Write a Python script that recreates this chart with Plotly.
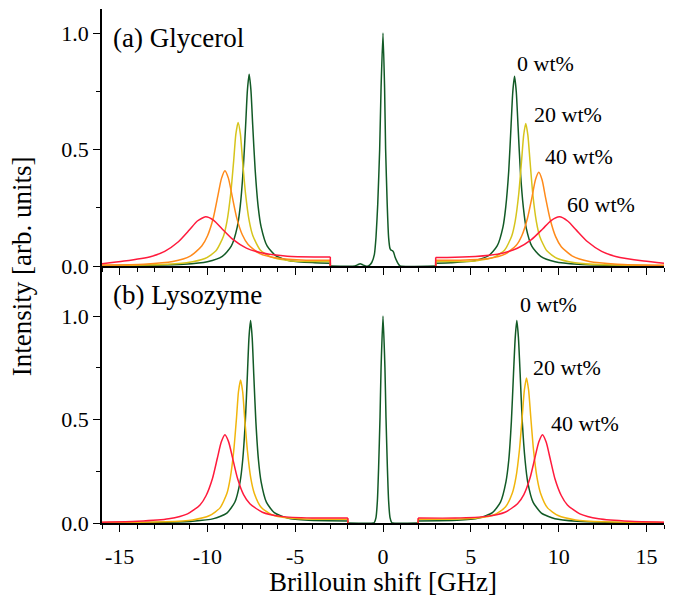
import plotly.graph_objects as go

# ---------------- data ----------------
# (a) Glycerol, anti-Stokes side (negative shift)
TOP_G0_L_X = [-16, -13.5, -11.36, -10.0, -9.15, -8.64, -8.30, -8.13, -7.96, -7.82, -7.72, -7.62, -7.52, -7.42, -7.28, -7.11, -6.94, -6.60, -6.09, -5.24, -3.88, -3.0]
TOP_G0_L_Y = [0.001, 0.003, 0.007, 0.018, 0.041, 0.085, 0.167, 0.256, 0.413, 0.606, 0.755, 0.823, 0.755, 0.606, 0.414, 0.256, 0.168, 0.086, 0.043, 0.021, 0.014, 0.012]
TOP_G20_L_X = [-16, -14.5, -12.87, -11.19, -10.14, -9.51, -9.09, -8.88, -8.67, -8.50, -8.38, -8.25, -8.12, -8.00, -7.83, -7.62, -7.41, -6.99, -6.36, -5.31, -3.63, -3.0]
TOP_G20_L_Y = [0.002, 0.003, 0.005, 0.014, 0.032, 0.065, 0.127, 0.193, 0.311, 0.454, 0.565, 0.616, 0.566, 0.455, 0.312, 0.195, 0.130, 0.069, 0.038, 0.023, 0.019, 0.019]
TOP_G40_L_X = [-16, -13.62, -11.97, -10.98, -10.32, -9.99, -9.66, -9.40, -9.20, -9.0, -8.80, -8.60, -8.34, -8.01, -7.68, -7.02, -6.03, -4.38, -3.0]
TOP_G40_L_Y = [0.004, 0.008, 0.019, 0.042, 0.086, 0.130, 0.207, 0.302, 0.375, 0.409, 0.376, 0.304, 0.210, 0.134, 0.092, 0.053, 0.034, 0.025, 0.025]
TOP_G60_L_X = [-16, -14.75, -13.2, -12.43, -11.65, -11.03, -10.57, -10.1, -9.64, -9.17, -8.55, -7.78, -7.0, -6.23, -5.45, -3.9, -3.0]
TOP_G60_L_Y = [0.010, 0.021, 0.041, 0.063, 0.104, 0.154, 0.193, 0.211, 0.196, 0.160, 0.114, 0.077, 0.058, 0.048, 0.042, 0.039, 0.039]
# (a) central (elastic) line
TOP_C_X = [-3.0, -1.6, -1.45, -1.3, -1.15, -1.0, -0.83, -0.64, -0.49, -0.40, -0.30, -0.19, -0.11, 0.0, 0.09, 0.15, 0.24, 0.32, 0.40, 0.46, 0.53, 0.60, 0.68, 0.78, 0.88, 0.97, 3.0]
TOP_C_Y = [0.0, 0.0, 0.005, 0.010, 0.005, 0.0, 0.0, 0.015, 0.05, 0.122, 0.265, 0.5, 0.765, 1.0, 0.765, 0.5, 0.265, 0.122, 0.075, 0.068, 0.066, 0.06, 0.04, 0.022, 0.008, 0.0, 0.0]
# (a) Stokes side (positive shift)
TOP_G0_R_X = [3.0, 3.86, 5.18, 6.01, 6.50, 6.83, 6.99, 7.16, 7.29, 7.39, 7.49, 7.59, 7.69, 7.82, 7.99, 8.15, 8.48, 8.98, 9.80, 11.12, 13.5, 16]
TOP_G0_R_Y = [0.012, 0.014, 0.022, 0.044, 0.086, 0.167, 0.254, 0.409, 0.600, 0.747, 0.814, 0.747, 0.599, 0.409, 0.253, 0.165, 0.084, 0.041, 0.018, 0.007, 0.002, 0.001]
TOP_G20_R_X = [3.0, 3.73, 5.33, 6.33, 6.93, 7.33, 7.53, 7.73, 7.89, 8.01, 8.13, 8.25, 8.37, 8.53, 8.73, 8.93, 9.33, 9.93, 10.93, 12.53, 16]
TOP_G20_R_Y = [0.019, 0.019, 0.023, 0.038, 0.069, 0.129, 0.194, 0.310, 0.452, 0.562, 0.612, 0.561, 0.451, 0.308, 0.192, 0.126, 0.065, 0.032, 0.014, 0.005, 0.002]
TOP_G40_R_X = [3.0, 4.39, 5.99, 6.95, 7.59, 7.91, 8.23, 8.49, 8.68, 8.87, 9.06, 9.25, 9.51, 9.83, 10.15, 10.79, 11.75, 13.35, 16]
TOP_G40_R_Y = [0.025, 0.025, 0.032, 0.051, 0.089, 0.131, 0.206, 0.298, 0.370, 0.402, 0.369, 0.296, 0.203, 0.126, 0.083, 0.042, 0.019, 0.008, 0.003]
TOP_G60_R_X = [3.0, 3.65, 5.25, 6.05, 6.85, 7.65, 8.45, 9.09, 9.57, 10.05, 10.53, 11.01, 11.65, 12.45, 13.25, 14.85, 16]
TOP_G60_R_Y = [0.037, 0.037, 0.041, 0.046, 0.056, 0.076, 0.113, 0.159, 0.195, 0.211, 0.192, 0.154, 0.104, 0.063, 0.041, 0.021, 0.012]

# (b) Lysozyme, negative shift
BOT_L0_L_X = [-16, -13, -10.84, -9.64, -8.89, -8.44, -8.14, -7.99, -7.84, -7.72, -7.63, -7.54, -7.45, -7.36, -7.24, -7.09, -6.94, -6.64, -6.19, -5.44, -4.24, -2.0]
BOT_L0_L_Y = [0.001, 0.003, 0.009, 0.021, 0.048, 0.100, 0.198, 0.303, 0.490, 0.720, 0.897, 0.978, 0.897, 0.720, 0.491, 0.303, 0.199, 0.101, 0.050, 0.024, 0.013, 0.010]
BOT_L20_L_X = [-16, -12.4, -10.84, -9.87, -9.28, -8.89, -8.70, -8.50, -8.34, -8.23, -8.11, -7.99, -7.88, -7.72, -7.53, -7.33, -6.94, -6.36, -5.38, -3.82, -2.0]
BOT_L20_L_Y = [0.002, 0.006, 0.015, 0.036, 0.073, 0.142, 0.216, 0.348, 0.509, 0.634, 0.691, 0.634, 0.510, 0.349, 0.218, 0.144, 0.076, 0.041, 0.024, 0.018, 0.018]
BOT_L40_L_X = [-16, -13.97, -12.2, -11.13, -10.42, -10.07, -9.71, -9.43, -9.21, -9.0, -8.79, -8.57, -8.29, -7.94, -7.58, -6.87, -5.81, -4.03, -2.0]
BOT_L40_L_Y = [0.004, 0.008, 0.020, 0.044, 0.087, 0.133, 0.215, 0.314, 0.391, 0.426, 0.392, 0.316, 0.217, 0.137, 0.093, 0.052, 0.032, 0.024, 0.024]
# (b) central line
BOT_C_X = [-2.0, -0.55, -0.49, -0.40, -0.32, -0.25, -0.17, -0.11, 0.0, 0.11, 0.17, 0.25, 0.32, 0.40, 0.49, 0.55, 2.0]
BOT_C_Y = [0.0, 0.0, 0.003, 0.026, 0.106, 0.267, 0.509, 0.75, 1.0, 0.75, 0.509, 0.267, 0.106, 0.026, 0.003, 0.0, 0.0]
# (b) positive shift
BOT_L0_R_X = [2.0, 4.21, 5.45, 6.23, 6.69, 7.0, 7.16, 7.31, 7.43, 7.53, 7.62, 7.71, 7.81, 7.93, 8.09, 8.24, 8.55, 9.02, 9.79, 11.03, 13, 16]
BOT_L0_R_Y = [0.010, 0.013, 0.024, 0.050, 0.101, 0.199, 0.303, 0.491, 0.720, 0.897, 0.978, 0.897, 0.720, 0.490, 0.303, 0.198, 0.100, 0.048, 0.021, 0.009, 0.003, 0.001]
BOT_L20_R_X = [2.0, 3.77, 5.37, 6.37, 6.97, 7.37, 7.57, 7.77, 7.93, 8.05, 8.17, 8.29, 8.41, 8.57, 8.77, 8.97, 9.37, 9.97, 10.97, 12.57, 16]
BOT_L20_R_Y = [0.018, 0.018, 0.024, 0.041, 0.077, 0.146, 0.220, 0.354, 0.517, 0.643, 0.701, 0.643, 0.516, 0.353, 0.219, 0.144, 0.073, 0.036, 0.015, 0.006, 0.002]
BOT_L40_R_X = [2.0, 4.11, 5.89, 6.95, 7.66, 8.02, 8.37, 8.65, 8.87, 9.08, 9.29, 9.51, 9.79, 10.15, 10.5, 11.21, 12.28, 14.05, 16]
BOT_L40_R_Y = [0.024, 0.024, 0.032, 0.052, 0.093, 0.137, 0.217, 0.315, 0.391, 0.426, 0.391, 0.314, 0.214, 0.133, 0.087, 0.044, 0.020, 0.008, 0.004]

# labels
TOP_LABELS = ["0 wt%", "20 wt%", "40 wt%", "60 wt%"]
TOP_LABEL_X = [7.53, 8.48, 9.10, 10.38]
TOP_LABEL_Y = [0.867, 0.651, 0.468, 0.262]
BOT_LABELS = ["0 wt%", "20 wt%", "40 wt%"]
BOT_LABEL_X = [7.68, 8.44, 9.43]
BOT_LABEL_Y = [1.056, 0.750, 0.480]
XTICK_VALS = [-15, -10, -5, 0, 5, 10, 15]
XTICK_TEXT = ["-15", "-10", "-5", "0", "5", "10", "15"]
YTICK_VALS = [0.0, 0.5, 1.0]
YTICK_TEXT = ["0.0", "0.5", "1.0"]
YMINOR_VALS = [0.25, 0.75]
XMINOR_VALS = list(range(-16, 17))

# ---------------- styling ----------------
FONT = "Liberation Serif, Times New Roman, Times, serif"
C_GREEN = "#125a26"
C_YELLOW = "#d6c41c"
C_ORANGE = "#ff8a1a"
C_RED = "#ff1a3c"
C_GOLD = "#f1b50c"
LW = 1.5

fig = go.Figure()

def add_wing(xs, ys, color, xa, ya, inner_index):
    fig.add_trace(go.Scatter(x=xs, y=ys, mode="lines", xaxis=xa, yaxis=ya,
                             line=dict(color=color, width=LW, shape="spline", smoothing=0.6),
                             showlegend=False, hoverinfo="skip"))
    # vertical drop to zero at the cut-off of the spectrum
    xe = xs[inner_index]
    fig.add_trace(go.Scatter(x=[xe, xe], y=[ys[inner_index], 0], mode="lines", xaxis=xa, yaxis=ya,
                             line=dict(color=color, width=LW), showlegend=False, hoverinfo="skip"))

# top panel (x2, y2)
fig.add_trace(go.Scatter(x=TOP_C_X, y=TOP_C_Y, mode="lines", xaxis="x2", yaxis="y2",
                         line=dict(color=C_GREEN, width=LW, shape="spline", smoothing=0.5),
                         showlegend=False, hoverinfo="skip"))
for (xl, yl, xr, yr, c) in [
    (TOP_G0_L_X, TOP_G0_L_Y, TOP_G0_R_X, TOP_G0_R_Y, C_GREEN),
    (TOP_G20_L_X, TOP_G20_L_Y, TOP_G20_R_X, TOP_G20_R_Y, C_YELLOW),
    (TOP_G40_L_X, TOP_G40_L_Y, TOP_G40_R_X, TOP_G40_R_Y, C_ORANGE),
    (TOP_G60_L_X, TOP_G60_L_Y, TOP_G60_R_X, TOP_G60_R_Y, C_RED),
]:
    add_wing(xl, yl, c, "x2", "y2", -1)
    add_wing(xr, yr, c, "x2", "y2", 0)

# bottom panel (x, y)
fig.add_trace(go.Scatter(x=BOT_C_X, y=BOT_C_Y, mode="lines", xaxis="x", yaxis="y",
                         line=dict(color=C_GREEN, width=LW, shape="spline", smoothing=0.5),
                         showlegend=False, hoverinfo="skip"))
for (xl, yl, xr, yr, c) in [
    (BOT_L0_L_X, BOT_L0_L_Y, BOT_L0_R_X, BOT_L0_R_Y, C_GREEN),
    (BOT_L20_L_X, BOT_L20_L_Y, BOT_L20_R_X, BOT_L20_R_Y, C_GOLD),
    (BOT_L40_L_X, BOT_L40_L_Y, BOT_L40_R_X, BOT_L40_R_Y, C_RED),
]:
    add_wing(xl, yl, c, "x", "y", -1)
    add_wing(xr, yr, c, "x", "y", 0)

TICKFONT = dict(family=FONT, size=22, color="black")
base_x = dict(range=[-16, 16], showgrid=False, zeroline=False, showline=True, linecolor="black",
              linewidth=1.5, tickcolor="black", tickwidth=1.2, fixedrange=True, automargin=False)
base_y = dict(showgrid=False, zeroline=False, showline=True, linecolor="black",
              linewidth=1.5, tickcolor="black", tickwidth=1.2, fixedrange=True, automargin=False)

Y_BOT_RANGE = [0, 1.2416]
Y_TOP_RANGE = [0, 1.103]

# the page body adds an 8 px offset, so margins are reduced accordingly
fig.update_layout(
    template="none",
    width=674, height=601,
    margin=dict(l=94, r=18, t=1, b=86, pad=0, autoexpand=False),
    paper_bgcolor="white", plot_bgcolor="white",
    font=dict(family=FONT, color="black"),
    showlegend=False,
    xaxis=dict(**base_x, anchor="y", domain=[0, 1], ticks="outside", ticklen=7,
               tickmode="array", tickvals=XTICK_VALS, ticktext=XTICK_TEXT, tickfont=TICKFONT,
               ticklabelstandoff=6,
               minor=dict(tickvals=XMINOR_VALS, ticks="outside", ticklen=4, tickcolor="black", tickwidth=1.2)),
    xaxis2=dict(**base_x, anchor="y2", domain=[0, 1], ticks="outside", ticklen=7,
                tickmode="array", tickvals=XTICK_VALS, showticklabels=False,
                minor=dict(tickvals=XMINOR_VALS, ticks="outside", ticklen=4, tickcolor="black", tickwidth=1.2)),
    xaxis3=dict(**base_x, anchor="y2", overlaying="x2", side="top", ticks="inside", ticklen=7,
                tickmode="array", tickvals=XTICK_VALS, showticklabels=False,
                minor=dict(tickvals=XMINOR_VALS, ticks="inside", ticklen=4, tickcolor="black", tickwidth=1.2)),
    yaxis=dict(**base_y, domain=[0, 0.5], anchor="x", range=Y_BOT_RANGE, ticks="outside", ticklen=7,
               tickmode="array", tickvals=YTICK_VALS, ticktext=YTICK_TEXT, tickfont=TICKFONT,
               minor=dict(tickvals=YMINOR_VALS, ticks="outside", ticklen=4, tickcolor="black", tickwidth=1.2)),
    yaxis2=dict(**base_y, domain=[0.5, 1], anchor="x2", range=Y_TOP_RANGE, ticks="outside", ticklen=7,
                tickmode="array", tickvals=YTICK_VALS, ticktext=YTICK_TEXT, tickfont=TICKFONT,
                minor=dict(tickvals=YMINOR_VALS, ticks="outside", ticklen=4, tickcolor="black", tickwidth=1.2)),
    yaxis3=dict(**base_y, overlaying="y", anchor="x", side="right", range=Y_BOT_RANGE, ticks="inside",
                ticklen=7, tickmode="array", tickvals=YTICK_VALS, showticklabels=False,
                minor=dict(tickvals=YMINOR_VALS, ticks="inside", ticklen=4, tickcolor="black", tickwidth=1.2)),
    yaxis4=dict(**base_y, overlaying="y2", anchor="x2", side="right", range=Y_TOP_RANGE, ticks="inside",
                ticklen=7, tickmode="array", tickvals=YTICK_VALS, showticklabels=False,
                minor=dict(tickvals=YMINOR_VALS, ticks="inside", ticklen=4, tickcolor="black", tickwidth=1.2)),
)

ann = []
LABEL_FONT = dict(family=FONT, size=22, color="black")
for t, x, y in zip(TOP_LABELS, TOP_LABEL_X, TOP_LABEL_Y):
    ann.append(dict(text=t, x=x, y=y, xref="x2", yref="y2", xanchor="left", yanchor="middle",
                    showarrow=False, font=LABEL_FONT))
for t, x, y in zip(BOT_LABELS, BOT_LABEL_X, BOT_LABEL_Y):
    ann.append(dict(text=t, x=x, y=y, xref="x", yref="y", xanchor="left", yanchor="middle",
                    showarrow=False, font=LABEL_FONT))
ann.append(dict(text="(a) Glycerol", x=-15.47, y=0.978, xref="x2", yref="y2", xanchor="left",
                yanchor="middle", showarrow=False, font=dict(family=FONT, size=27, color="black")))
ann.append(dict(text="(b) Lysozyme", x=-15.47, y=1.101, xref="x", yref="y", xanchor="left",
                yanchor="middle", showarrow=False, font=dict(family=FONT, size=27, color="black")))
ann.append(dict(text="Intensity [arb. units]", x=-0.142, y=0.5, xref="paper", yref="paper",
                xanchor="center", yanchor="middle", textangle=-90, showarrow=False,
                font=dict(family=FONT, size=27, color="black")))
ann.append(dict(text="Brillouin shift [GHz]", x=0.5, y=-0.1148, xref="paper", yref="paper",
                xanchor="center", yanchor="middle", showarrow=False,
                font=dict(family=FONT, size=27, color="black")))
fig.update_layout(annotations=ann)

fig.write_html("out.html")
